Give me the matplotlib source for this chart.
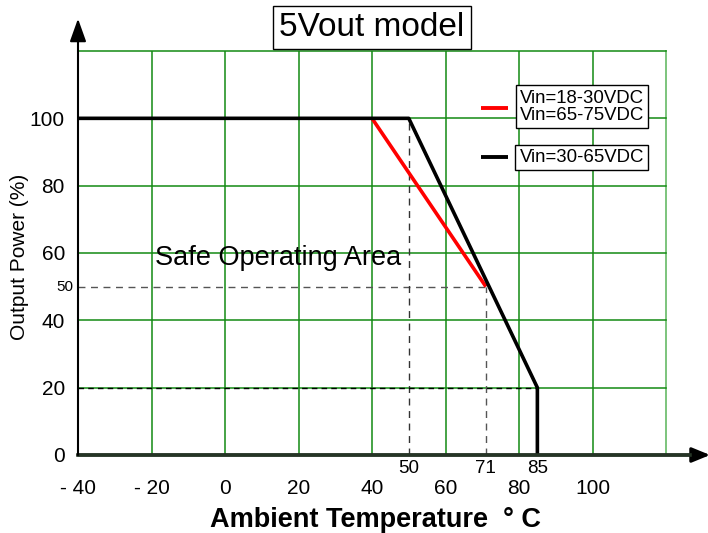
import numpy as np
import matplotlib.pyplot as plt

plt.rcParams['font.family'] = ['Liberation Sans', 'DejaVu Sans']

# derating curves (ambient temp in degC, output power in %)
temp_black = [-40, 50, 85, 85]
power_black = [100, 100, 20, 0]
temp_red = [40, 71]
power_red = [100, 50]

x_ticks = [-40, -20, 0, 20, 40, 60, 80, 100]
x_labels = ['- 40', '- 20', '0', '20', '40', '60', '80', '100']
y_ticks = [0, 20, 40, 60, 80, 100]
mark_temps = [50, 71, 85]
legend_red = 'Vin=18-30VDC\nVin=65-75VDC'
legend_black = 'Vin=30-65VDC'

fig = plt.figure(figsize=(7.08, 5.33), dpi=100)
ax = fig.add_axes([78/708, 1-455/533, (666-78)/708, (455-51)/533])
ax.set_xlim(-40, 120)
ax.set_ylim(0, 120)
for s in ax.spines.values():
    s.set_visible(False)

# grid
green = '#138a13'
for gx in range(-20, 120, 20):
    ax.axvline(gx, color=green, lw=1.1, zorder=1)
ax.axvline(120, color='#7cc47c', lw=1.4, zorder=1, clip_on=False)
for gy in range(20, 140, 20):
    ax.axhline(gy, color=green, lw=1.1, zorder=1, clip_on=False)

# reference dashed lines
ax.plot([-40, 71], [50, 50], color='#555555', lw=1, ls=(0, (5, 4)), zorder=2)
ax.plot([50, 50], [0, 100], color='#333333', lw=1, ls=(0, (5, 4)), zorder=2)
ax.plot([71, 71], [0, 50], color='#555555', lw=1, ls=(0, (5, 4)), zorder=2)
ax.plot([-40, 85], [20, 20], color='black', lw=1, ls=(0, (4, 3)), zorder=2)

# curves
ax.plot(temp_red, power_red, color='red', lw=2.6, zorder=3, solid_capstyle='butt')
ax.plot(temp_black, power_black, color='black', lw=2.6, zorder=4)

# axes with arrows
ax.annotate('', xy=(1.075, 0), xytext=(0, 0), xycoords='axes fraction',
            arrowprops=dict(arrowstyle='-|>,head_length=1.1,head_width=0.45',
                            color='black', lw=2.2, shrinkA=0, shrinkB=0),
            annotation_clip=False, zorder=5)
ax.plot([0, 1.04], [0, 0], transform=ax.transAxes, color='#263526', lw=2.6,
        clip_on=False, zorder=5)
ax.annotate('', xy=(0, 1.08), xytext=(0, 0), xycoords='axes fraction',
            arrowprops=dict(arrowstyle='-|>,head_length=1.4,head_width=0.5',
                            color='black', lw=1.5, shrinkA=0, shrinkB=0),
            annotation_clip=False, zorder=5)

# ticks
ax.set_xticks(x_ticks)
ax.set_xticklabels(x_labels, fontsize=15)
ax.tick_params(axis='x', length=0, pad=17)
ax.set_yticks(y_ticks)
ax.set_yticklabels([str(v) for v in y_ticks], fontsize=15)
ax.tick_params(axis='y', length=0, pad=9.4)
ax.text(-41.2, 50, '50', ha='right', va='center', fontsize=11)
for t in mark_temps:
    ax.text(t, -1.6, str(t), ha='center', va='top', fontsize=13.5)

ax.set_ylabel('Output Power (%)', fontsize=15, va='center')
ax.yaxis.set_label_coords(-0.1003, 0.49)
ax.set_xlabel('Ambient Temperature  ° C', fontsize=19.5, fontweight='bold', va='center')
ax.xaxis.set_label_coords(0.505, -0.161)

ax.text(-19.0, 58.5, 'Safe Operating Area', fontsize=19.5, ha='left', va='center')

# title box
fig.text(372/708, 1-27.5/533, '5Vout model', fontsize=24, ha='center', va='center',
         bbox=dict(boxstyle='square,pad=0.18', fc='white', ec='black', lw=1))

# legend
ax.plot([69.7, 77.0], [103.1, 103.1], color='red', lw=2.8, zorder=6, solid_capstyle='butt')
ax.plot([69.7, 77.0], [88.5, 88.5], color='black', lw=2.8, zorder=6, solid_capstyle='butt')
ax.text(97.1, 103.4, legend_red, fontsize=13.4, ha='center', va='center', linespacing=1.05,
        bbox=dict(boxstyle='square,pad=0.22', fc='white', ec='black', lw=1), zorder=6)
ax.text(97.1, 88.3, legend_black, fontsize=13.4, ha='center', va='center',
        bbox=dict(boxstyle='square,pad=0.22', fc='white', ec='black', lw=1), zorder=6)

fig.savefig('out.png', dpi=100)
